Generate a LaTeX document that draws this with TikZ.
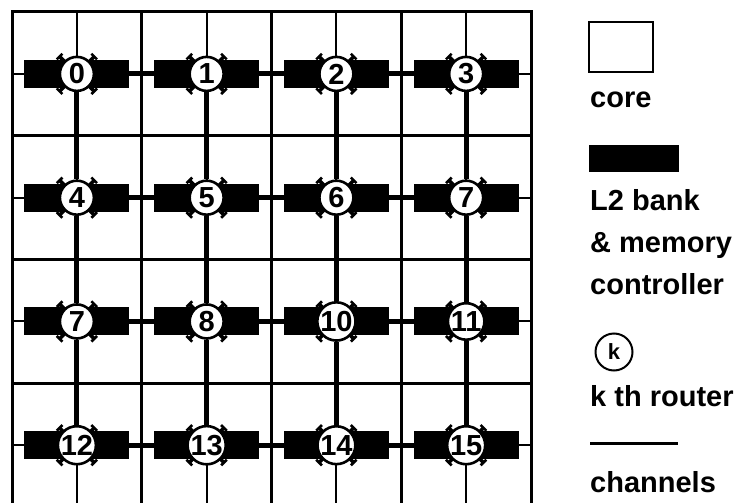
\documentclass[tikz,border=0pt]{standalone}
\usepackage{fontspec}
\setmainfont{Liberation Sans}
\pgfdeclarelayer{gridl}
\pgfdeclarelayer{chanl}
\pgfsetlayers{gridl,chanl,main}
\begin{document}
\begin{tikzpicture}[x=1pt,y=-1pt,
  gridb/.style={line width=3pt},
  coreline/.style={line width=2pt},
  channel/.style={line width=5pt},
  bank/.style={fill=black, draw=none, minimum width=105pt, minimum height=28pt, inner sep=0pt},
  router/.style={circle, fill=white, draw=black, line width=2.6pt, minimum size=34pt, inner sep=0pt, font=\bfseries\fontsize{29}{29}\selectfont},
  stub/.style={line width=3.6pt},
  legtext/.style={anchor=base west, font=\bfseries\fontsize{29}{29}\selectfont, inner sep=0pt}
]
\useasboundingbox (0,0) rectangle (739,503);
% grid
\begin{pgfonlayer}{gridl}
\draw[gridb] (12,503) -- (12,12) -- (531,12) -- (531,503);
\foreach \x in {141.75,271.5,401.25} \draw[gridb] (\x,12) -- (\x,503);
\foreach \y in {135.8,259.5,383.3} \draw[gridb] (12,\y) -- (531,\y);
\foreach \x in {76.9,206.6,336.4,466.1} \draw[coreline] (\x,12) -- (\x,503);
\foreach \y in {73.9,197.6,321.4,445.2} \draw[coreline] (12,\y) -- (531,\y);
\end{pgfonlayer}
% banks and routers
\foreach \lab [count=\n from 0] in {0,1,2,3,4,5,6,7,7,8,10,11,12,13,14,15} {
  \pgfmathtruncatemacro{\col}{mod(\n,4)}
  \pgfmathtruncatemacro{\row}{int(\n/4)}
  \pgfmathsetmacro{\px}{76.9+129.75*\col}
  \pgfmathsetmacro{\py}{73.9+123.77*\row}
  \node[bank] (b\n) at (\px,\py) {};
  \foreach \a in {45,135,225,315} {
    \draw[stub] (\px,\py) ++(\a:15pt) -- ++(\a:10pt);
    \draw[line width=2.6pt] (\px,\py) ++(\a:24.5pt) ++({\a+90}:4pt) -- ++({\a-90}:8pt);
  }
  \node[router] (r\n) at (\px,\py) {\lab};
}
% channels
\begin{pgfonlayer}{chanl}
\foreach \r in {0,4,8,12} {
  \pgfmathtruncatemacro{\ra}{\r+1}
  \pgfmathtruncatemacro{\rb}{\r+2}
  \pgfmathtruncatemacro{\rc}{\r+3}
  \draw[channel] (r\r) -- (r\ra);
  \draw[channel] (r\ra) -- (r\rb);
  \draw[channel] (r\rb) -- (r\rc);
}
\foreach \c in {0,1,2,3} {
  \pgfmathtruncatemacro{\ca}{\c+4}
  \pgfmathtruncatemacro{\cb}{\c+8}
  \pgfmathtruncatemacro{\cc}{\c+12}
  \draw[channel] (r\c) -- (r\ca);
  \draw[channel] (r\ca) -- (r\cb);
  \draw[channel] (r\cb) -- (r\cc);
}
\end{pgfonlayer}
% legend
\node[draw, line width=1.4pt, minimum width=64pt, minimum height=50pt, inner sep=0pt] (lcorebox) at (621,47) {};
\node[legtext] (lcore) at (590,107) {core};
\node[fill=black, minimum width=90pt, minimum height=27pt, inner sep=0pt] (lbank) at (634,158.5) {};
\node[legtext] (lbank1) at (590,210) {L2 bank};
\node[legtext] (lbank2) at (590,252) {\& memory};
\node[legtext] (lbank3) at (590,294) {controller};
\node[circle, draw, line width=2pt, minimum size=37pt, inner sep=0pt, font=\bfseries\fontsize{22}{22}\selectfont] (lrouter) at (614,352) {k};
\node[legtext] (lrouter1) at (590,406) {k th router};
\coordinate (lch1) at (590,443);
\coordinate (lch2) at (678,443);
\draw[line width=3pt] (lch1) -- (lch2);
\node[legtext] (lchan) at (590,492) {channels};
\end{tikzpicture}
\end{document}
